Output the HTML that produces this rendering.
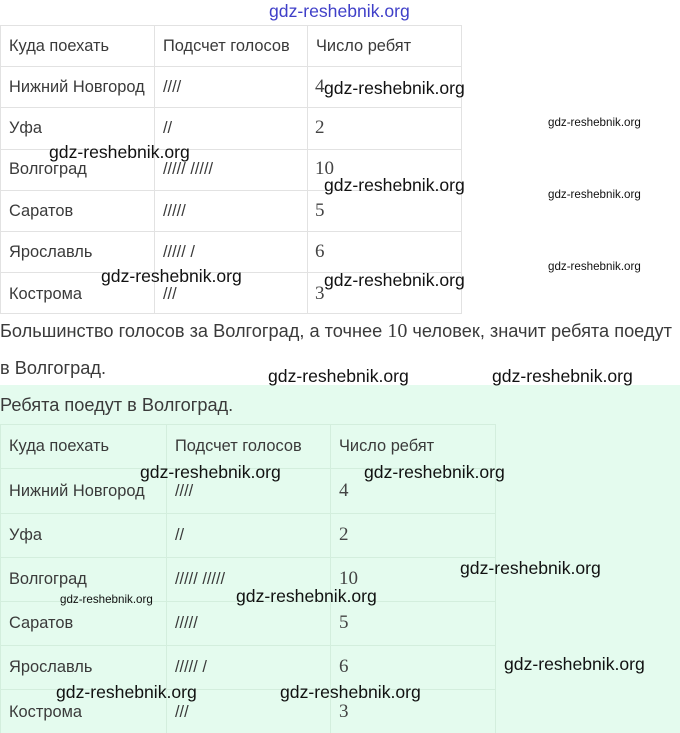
<!DOCTYPE html>
<html><head><meta charset="utf-8"><style>
body{margin:0;width:680px;height:733px;position:relative;background:#fff;overflow:hidden;font-family:"Liberation Sans",sans-serif;color:#333;}
.a{position:absolute;white-space:nowrap;}
.t{font-size:16.4px;color:#3a3a3a;}
.n{font-family:"Liberation Serif",serif;font-size:19px;color:#444;}
.w{font-size:17.6px;color:#111;}
.ws{font-size:11.6px;color:#111;}
.h{position:absolute;height:1px;background:#e2e2e2;}
.v{position:absolute;width:1px;background:#e2e2e2;}
.g .h,.g .v{background:#d3eedd;}
</style></head><body>
<div class="a" style="left:269px;top:1px;font-size:17.6px;color:#3f3fc8;">gdz-reshebnik.org</div>

<div class="h" style="left:0;top:25px;width:462px"></div>
<div class="h" style="left:0;top:66px;width:462px"></div>
<div class="h" style="left:0;top:107px;width:462px"></div>
<div class="h" style="left:0;top:149px;width:462px"></div>
<div class="h" style="left:0;top:190px;width:462px"></div>
<div class="h" style="left:0;top:231px;width:462px"></div>
<div class="h" style="left:0;top:272px;width:462px"></div>
<div class="h" style="left:0;top:313px;width:462px"></div>
<div class="v" style="left:0;top:25px;height:289px"></div>
<div class="v" style="left:154px;top:25px;height:289px"></div>
<div class="v" style="left:307px;top:25px;height:289px"></div>
<div class="v" style="left:461px;top:25px;height:289px"></div>

<div class="a t" style="left:9px;top:37px">Куда поехать</div>
<div class="a t" style="left:163px;top:37px">Подсчет голосов</div>
<div class="a t" style="left:316px;top:37px">Число ребят</div>
<div class="a t" style="left:9px;top:78px">Нижний Новгород</div>
<div class="a t" style="left:163px;top:78px">////</div>
<div class="a n" style="left:315px;top:76px">4</div>
<div class="a t" style="left:9px;top:119px">Уфа</div>
<div class="a t" style="left:163px;top:119px">//</div>
<div class="a n" style="left:315px;top:117px">2</div>
<div class="a t" style="left:9px;top:160px">Волгоград</div>
<div class="a t" style="left:163px;top:160px">///// /////</div>
<div class="a n" style="left:315px;top:158px">10</div>
<div class="a t" style="left:9px;top:202px">Саратов</div>
<div class="a t" style="left:163px;top:202px">/////</div>
<div class="a n" style="left:315px;top:200px">5</div>
<div class="a t" style="left:9px;top:243px">Ярославль</div>
<div class="a t" style="left:163px;top:243px">///// /</div>
<div class="a n" style="left:315px;top:241px">6</div>
<div class="a t" style="left:9px;top:285px">Кострома</div>
<div class="a t" style="left:163px;top:285px">///</div>
<div class="a n" style="left:315px;top:283px">3</div>

<div class="a" style="left:0;top:320px;font-size:18.2px;color:#3a3a3a">Большинство голосов за Волгоград, а точнее <span style="font-family:'Liberation Serif',serif;font-size:20px">10</span> человек, значит ребята поедут</div>
<div class="a" style="left:0;top:358px;font-size:18.2px;color:#3a3a3a">в Волгоград.</div>

<div class="g" style="position:absolute;left:0;top:385px;width:680px;height:348px;background:#e4fbee">
<div class="a" style="left:0;top:10px;font-size:18.2px;color:#3a3a3a">Ребята поедут в Волгоград.</div>
<div class="h" style="left:0;top:39px;width:496px"></div>
<div class="h" style="left:0;top:83px;width:496px"></div>
<div class="h" style="left:0;top:128px;width:496px"></div>
<div class="h" style="left:0;top:172px;width:496px"></div>
<div class="h" style="left:0;top:216px;width:496px"></div>
<div class="h" style="left:0;top:260px;width:496px"></div>
<div class="h" style="left:0;top:304px;width:496px"></div>
<div class="v" style="left:0;top:39px;height:309px"></div>
<div class="v" style="left:166px;top:39px;height:309px"></div>
<div class="v" style="left:330px;top:39px;height:309px"></div>
<div class="v" style="left:495px;top:39px;height:309px"></div>
</div>
<div class="a t" style="left:9px;top:437px">Куда поехать</div>
<div class="a t" style="left:175px;top:437px">Подсчет голосов</div>
<div class="a t" style="left:339px;top:437px">Число ребят</div>
<div class="a t" style="left:9px;top:482px">Нижний Новгород</div>
<div class="a t" style="left:175px;top:482px">////</div>
<div class="a n" style="left:339px;top:480px">4</div>
<div class="a t" style="left:9px;top:526px">Уфа</div>
<div class="a t" style="left:175px;top:526px">//</div>
<div class="a n" style="left:339px;top:524px">2</div>
<div class="a t" style="left:9px;top:570px">Волгоград</div>
<div class="a t" style="left:175px;top:570px">///// /////</div>
<div class="a n" style="left:339px;top:568px">10</div>
<div class="a t" style="left:9px;top:614px">Саратов</div>
<div class="a t" style="left:175px;top:614px">/////</div>
<div class="a n" style="left:339px;top:612px">5</div>
<div class="a t" style="left:9px;top:658px">Ярославль</div>
<div class="a t" style="left:175px;top:658px">///// /</div>
<div class="a n" style="left:339px;top:656px">6</div>
<div class="a t" style="left:9px;top:703px">Кострома</div>
<div class="a t" style="left:175px;top:703px">///</div>
<div class="a n" style="left:339px;top:701px">3</div>

<div class="a w" style="left:324px;top:78px">gdz-reshebnik.org</div>
<div class="a ws" style="left:548px;top:116px">gdz-reshebnik.org</div>
<div class="a w" style="left:49px;top:142px">gdz-reshebnik.org</div>
<div class="a w" style="left:324px;top:175px">gdz-reshebnik.org</div>
<div class="a ws" style="left:548px;top:188px">gdz-reshebnik.org</div>
<div class="a ws" style="left:548px;top:260px">gdz-reshebnik.org</div>
<div class="a w" style="left:101px;top:266px">gdz-reshebnik.org</div>
<div class="a w" style="left:324px;top:270px">gdz-reshebnik.org</div>
<div class="a w" style="left:268px;top:366px">gdz-reshebnik.org</div>
<div class="a w" style="left:492px;top:366px">gdz-reshebnik.org</div>
<div class="a w" style="left:140px;top:462px">gdz-reshebnik.org</div>
<div class="a w" style="left:364px;top:462px">gdz-reshebnik.org</div>
<div class="a w" style="left:460px;top:558px">gdz-reshebnik.org</div>
<div class="a ws" style="left:60px;top:593px">gdz-reshebnik.org</div>
<div class="a w" style="left:236px;top:586px">gdz-reshebnik.org</div>
<div class="a w" style="left:504px;top:654px">gdz-reshebnik.org</div>
<div class="a w" style="left:56px;top:682px">gdz-reshebnik.org</div>
<div class="a w" style="left:280px;top:682px">gdz-reshebnik.org</div>
</body></html>
